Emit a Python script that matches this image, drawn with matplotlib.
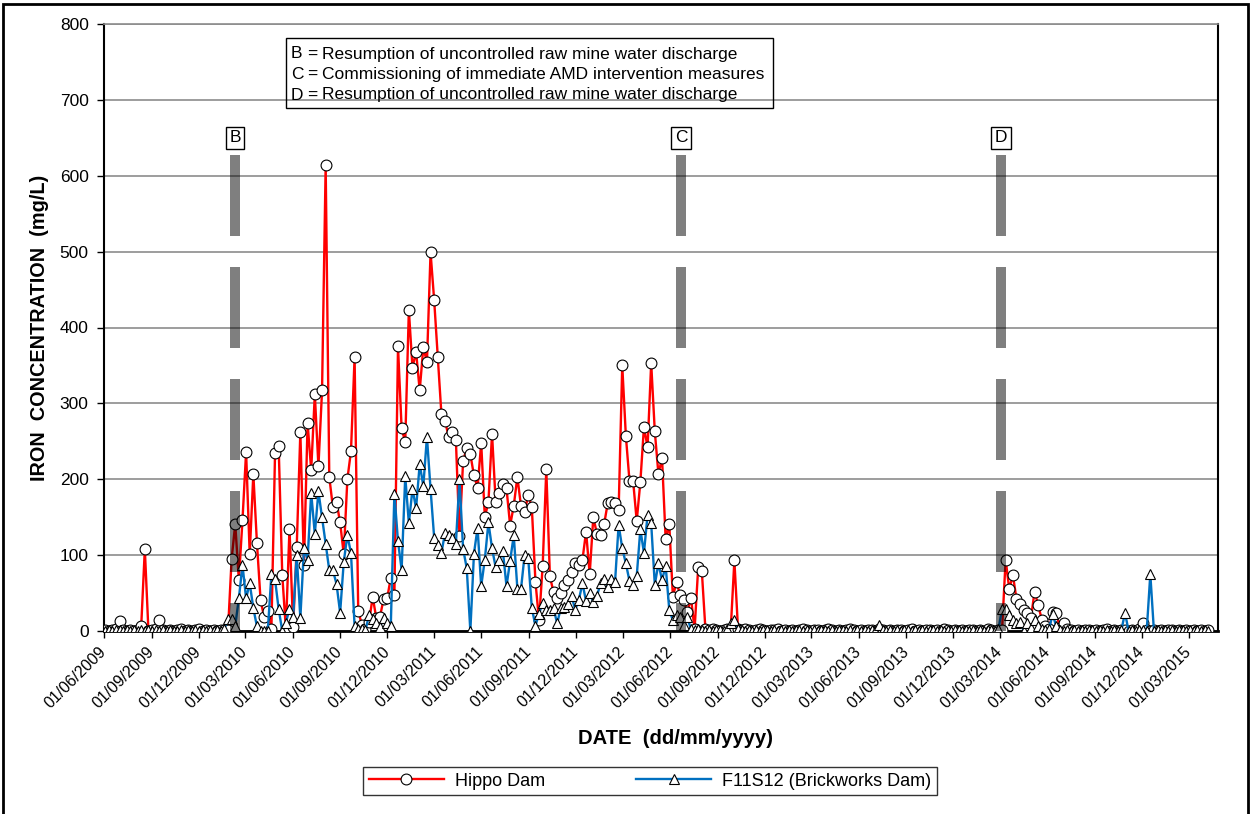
import matplotlib
matplotlib.use('Agg')
import matplotlib.pyplot as plt
import matplotlib.dates as mdates
from matplotlib.lines import Line2D
from matplotlib.patches import Rectangle
import pandas as pd

plt.rcParams['font.family'] = ['Liberation Sans', 'DejaVu Sans']

# weekly iron concentrations (mg/L), first sample 03/06/2009
hippo = [
    1, 0, 1, 2, 13, 1, 0, 1, 0, 1,
    6, 108, 0, 1, 2, 15, 1, 0, 1, 0,
    1, 2, 0, 1, 0, 1, 2, 0, 1, 0,
    1, 0, 1, 1, 1, 95, 141, 67, 146, 236,
    101, 207, 116, 41, 18, 26, 3, 234, 244, 74,
    2, 135, 5, 111, 262, 87, 274, 212, 312, 217,
    317, 614, 203, 163, 170, 143, 101, 200, 237, 361,
    27, 8, 3, 12, 45, 17, 18, 42, 43, 70,
    47, 375, 267, 249, 423, 347, 368, 317, 374, 354,
    499, 436, 361, 286, 277, 256, 262, 252, 125, 224,
    241, 233, 205, 189, 248, 150, 170, 260, 170, 182,
    194, 188, 139, 165, 203, 165, 157, 179, 163, 65,
    14, 86, 213, 72, 51, 43, 50, 61, 67, 78,
    90, 87, 94, 131, 75, 150, 128, 126, 141, 169,
    170, 169, 159, 350, 257, 198, 198, 145, 196, 269,
    242, 353, 263, 207, 228, 121, 141, 45, 65, 47,
    41, 25, 44, 2, 84, 79, 2, 1, 2, 1,
    0, 1, 2, 3, 93, 3, 1, 2, 1, 0,
    1, 2, 1, 0, 1, 1, 2, 0, 1, 0,
    1, 0, 1, 2, 1, 0, 1, 1, 0, 1,
    2, 1, 0, 1, 0, 1, 2, 1, 0, 1,
    0, 1, 1, 0, 2, 1, 0, 1, 0, 1,
    1, 0, 1, 2, 0, 1, 0, 1, 1, 0,
    1, 0, 2, 1, 0, 1, 0, 1, 0, 1,
    1, 0, 1, 0, 2, 1, 0, 1, 1, 94,
    55, 74, 42, 35, 28, 24, 17, 52, 34, 15,
    6, 3, 25, 24, 4, 11, 2, 1, 0, 1,
    0, 1, 1, 0, 1, 0, 1, 2, 0, 1,
    0, 1, 1, 0, 1, 0, 2, 10, 1, 0,
    1, 0, 1, 0, 1, 1, 0, 1, 0, 1,
    0, 1, 0, 1, 0, 1,
]

brickworks = [
    0, 1, 0, 1, 1, 0, 1, 0, 1, 0,
    1, 0, 1, 0, 1, 0, 1, 0, 1, 0,
    0, 1, 0, 1, 0, 1, 0, 1, 0, 1,
    0, 1, 0, 3, 16, 16, 7, 43, 87, 43,
    63, 30, 6, 0, 0, 0, 75, 68, 29, 0,
    11, 29, 18, 100, 17, 109, 94, 182, 128, 184,
    150, 115, 80, 80, 62, 24, 91, 126, 103, 6,
    2, 2, 1, 21, 16, 10, 5, 17, 10, 6,
    181, 118, 81, 204, 142, 187, 162, 220, 191, 256,
    187, 123, 114, 103, 129, 126, 122, 115, 200, 108,
    83, 0, 102, 136, 59, 94, 143, 109, 84, 94,
    105, 59, 92, 126, 56, 55, 100, 96, 30, 7,
    23, 37, 28, 28, 30, 10, 30, 31, 35, 46,
    28, 41, 63, 39, 50, 38, 46, 63, 68, 58,
    69, 64, 140, 109, 89, 66, 61, 72, 134, 103,
    153, 142, 61, 89, 67, 86, 28, 14, 21, 18,
    8, 18, 2, 1, 2, 1, 0, 1, 0, 1,
    1, 0, 2, 11, 15, 2, 1, 0, 1, 0,
    1, 0, 1, 1, 0, 1, 0, 1, 0, 1,
    0, 1, 1, 0, 1, 0, 1, 0, 1, 1,
    0, 1, 0, 1, 1, 0, 1, 0, 1, 0,
    1, 0, 1, 0, 8, 1, 0, 1, 0, 1,
    0, 1, 1, 0, 1, 0, 1, 0, 1, 1,
    0, 1, 0, 1, 0, 1, 1, 0, 1, 0,
    1, 0, 1, 0, 1, 1, 0, 2, 29, 29,
    21, 15, 10, 12, 0, 11, 4, 15, 7, 2,
    1, 3, 22, 6, 1, 0, 1, 0, 1, 0,
    1, 0, 1, 1, 0, 1, 0, 1, 0, 1,
    0, 1, 24, 0, 1, 0, 1, 1, 0, 75,
    0, 1, 0, 1, 0, 1, 0, 1, 1, 0,
    1, 0, 1, 0, 1, 0,
]

dates = pd.date_range('2009-06-03', periods=len(hippo), freq='7D')

event_labels = ['B', 'C', 'D']
event_dates = pd.to_datetime(['2010-02-10', '2012-06-22', '2014-03-03'])
event_notes = [
    'Resumption of uncontrolled raw mine water discharge',
    'Commissioning of immediate AMD intervention measures',
    'Resumption of uncontrolled raw mine water discharge',
]

W, H = 1250, 814


def fx(px):
    return px / W


def fy(py):
    return 1 - py / H


fig = plt.figure(figsize=(W / 100, H / 100), dpi=100)
fig.patch.set_facecolor('white')
fig.patches.append(Rectangle((fx(3), fy(818)), fx(1248) - fx(3), fy(4) - fy(818),
                             transform=fig.transFigure, fill=False,
                             edgecolor='black', linewidth=2))

ax = fig.add_axes([fx(104), fy(631), fx(1218) - fx(104), fy(24) - fy(631)])

ax.plot(dates, hippo, color='#ff0000', lw=1.7, marker='o', ms=7.8,
        mfc='white', mec='black', mew=0.8, zorder=3, label='Hippo Dam')
ax.plot(dates, brickworks, color='#0070c0', lw=1.7, marker='^', ms=7.8,
        mfc='white', mec='black', mew=0.8, zorder=4,
        label='F11S12 (Brickworks Dam)')

# event markers
for lab, d in zip(event_labels, event_dates):
    ax.plot([d, d], [628, 0], color='black', alpha=0.5, lw=7.2,
            dashes=(8.1, 3.1), dash_capstyle='butt', solid_capstyle='butt',
            zorder=5)
    ax.text(d, 650, lab, ha='center', va='center', fontsize=12.5, zorder=6,
            bbox=dict(boxstyle='square,pad=0.2', fc='white', ec='black', lw=1))

ax.set_xlim(pd.Timestamp('2009-06-01'), pd.Timestamp('2015-04-27'))
ax.set_ylim(0, 800)
ax.set_yticks(range(0, 801, 100))
ax.yaxis.grid(True, color='#8c8c8c', lw=1.2)
ax.set_axisbelow(True)

ax.xaxis.set_major_locator(mdates.MonthLocator(bymonth=[3, 6, 9, 12], bymonthday=1))
ax.xaxis.set_major_formatter(mdates.DateFormatter('%d/%m/%Y'))
ax.tick_params(axis='x', direction='out', length=5, width=1, labelsize=11.5, pad=8)
ax.tick_params(axis='y', direction='out', length=5, width=1, labelsize=12.5, pad=6)
for t in ax.get_xticklabels():
    t.set_rotation(45)
    t.set_ha('right')
    t.set_va('center')
    t.set_rotation_mode('anchor')

for side in ['left', 'bottom', 'right']:
    ax.spines[side].set_color('black')
ax.spines['left'].set_linewidth(1.5)
ax.spines['bottom'].set_linewidth(2)
ax.spines['right'].set_linewidth(1.5)
ax.spines['top'].set_color('#8c8c8c')
ax.spines['top'].set_linewidth(1.2)

fig.text(fx(40), fy(328), 'IRON  CONCENTRATION  (mg/L)', rotation=90,
         ha='center', va='center', fontsize=14.3, fontweight='bold')
fig.text(fx(676), fy(738), 'DATE  (dd/mm/yyyy)', ha='center', va='center',
         fontsize=14.5, fontweight='bold')

# key to the event letters
fig.patches.append(Rectangle((fx(286), fy(108)), fx(773) - fx(286), fy(38) - fy(108),
                             transform=fig.transFigure, fill=False,
                             edgecolor='black', linewidth=1))
for k, (lab, note) in enumerate(zip(event_labels, event_notes)):
    y = fy(54 + 20.5 * k)
    fig.text(fx(291), y, lab, ha='left', va='center', fontsize=12.5)
    fig.text(fx(307), y, '=', ha='left', va='center', fontsize=12.5)
    fig.text(fx(322), y, note, ha='left', va='center', fontsize=12.5)

handles = [
    Line2D([], [], color='#ff0000', lw=1.7, marker='o', ms=7.8, mfc='white',
           mec='black', mew=0.8),
    Line2D([], [], color='#0070c0', lw=1.7, marker='^', ms=7.8, mfc='white',
           mec='black', mew=0.8),
]
leg = fig.legend(handles, ['Hippo Dam', 'F11S12 (Brickworks Dam)'], ncol=2,
                 loc='center', bbox_to_anchor=(fx(650), fy(781)), fontsize=13,
                 frameon=True, fancybox=False, edgecolor='black',
                 handlelength=4.2, columnspacing=5.0, borderpad=0.3,
                 handletextpad=0.6, borderaxespad=0)
leg.get_frame().set_linewidth(1)

fig.savefig('out.png', dpi=100)
